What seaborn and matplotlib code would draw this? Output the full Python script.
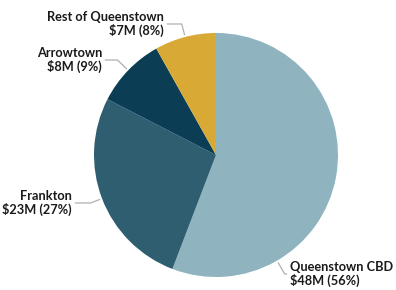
import numpy as np
import matplotlib
matplotlib.use("Agg")
import matplotlib.pyplot as plt
import seaborn as sns

# revenue by area, $M
areas = ["Queenstown CBD", "Frankton", "Arrowtown", "Rest of Queenstown"]
values = [48, 23, 8, 7]
colors = ["#8fb4bf", "#2e5e70", "#0b3d55", "#d9a935"]

sns.set_theme(style="white")
plt.rcParams["font.family"] = ["Lato", "DejaVu Sans"]

fig = plt.figure(figsize=(3.96, 2.90), dpi=100)
ax = fig.add_axes([0, 0, 1, 1])

wedges, _ = ax.pie(values, colors=colors, startangle=90, counterclock=False,
                   wedgeprops=dict(linewidth=0))

# fit the pie into the canvas: centre at (216, 135) px, radius 122 px
ax.set_xlim(-216 / 122, (396 - 216) / 122)
ax.set_ylim(-135 / 122, (290 - 135) / 122)
ax.set_aspect("auto")
ax.axis("off")

total = sum(values)
# label text anchors in figure pixels, plus which side the text sits on
label_pos = {
    "Queenstown CBD": (290, 16, "left"),
    "Frankton": (72, 87, "right"),
    "Arrowtown": (102, 230, "right"),
    "Rest of Queenstown": (164, 266, "right"),
}

for w, name, v in zip(wedges, areas, values):
    if name == "Queenstown CBD":
        ang = -60.0
    else:
        ang = (w.theta1 + w.theta2) / 2
    rad = np.deg2rad(ang)
    pt = (1.02 * np.cos(rad), 1.02 * np.sin(rad))
    tx, ty, side = label_pos[name]
    pct = round(v / total * 100)
    ax.annotate(f"{name}\n${v}M ({pct}%)", xy=pt, xycoords="data",
                xytext=(tx, ty), textcoords="figure pixels",
                ha=side, va="center", fontsize=9.2, fontweight="bold",
                color="#1a1a1a", linespacing=1.1,
                arrowprops=dict(arrowstyle="-", color="#b0b0b0", lw=0.9,
                                shrinkA=0, shrinkB=0,
                                relpos=(0, 0.5) if side == "left" else (1, 0.5),
                                connectionstyle=f"angle,angleA=0,angleB={ang},rad=0"))

fig.savefig("out.png", dpi=100)
